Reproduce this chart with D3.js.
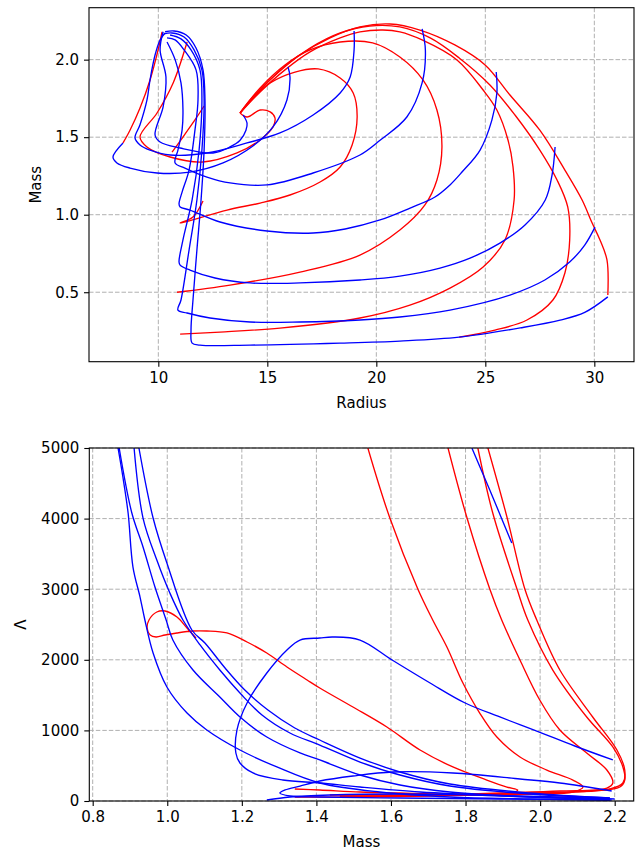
<!DOCTYPE html>
<html>
<head>
<meta charset="utf-8">
<script src="https://cdn.jsdelivr.net/npm/d3@7"></script>
<style>
  body { margin: 0; background: #fff; }
  svg { display: block; }
  text { font-family: "DejaVu Sans", sans-serif; fill: #000; }
</style>
</head>
<body>
<svg id="chart" width="640" height="852"></svg>
<script>
// ---------- Mass–radius sequences: [radius, mass] ----------
// stable (blue) branches
const mrBlue1 = [[30.62,0.47],[29.56,0.37],[28.43,0.32],[26.6,0.27],[23.8,0.21],[21.08,0.185],[18.34,0.172],[14.21,0.159],[11.91,0.159],[11.55,0.172],[11.5,0.256],[11.59,0.45],[11.77,0.772],[11.96,1.095],[12.1,1.417],[12.14,1.74],[12.05,1.934],[11.73,2.075],[11.28,2.159],[10.72,2.185],[10.31,2.18]];
const mrBlue2 = [[30.03,0.92],[29.56,0.804],[28.87,0.695],[27.73,0.579],[26.13,0.482],[23.38,0.385],[21.08,0.34],[19.25,0.321],[16.5,0.308],[14.21,0.308],[12.37,0.334],[11.32,0.366],[10.9,0.385],[11.04,0.45],[11.41,0.772],[11.77,1.095],[12.0,1.417],[12.1,1.74],[12.0,1.934],[11.64,2.063],[11.18,2.146],[10.63,2.172],[10.26,2.166]];
const mrBlue3 = [[28.2,1.437],[28.06,1.256],[27.75,1.095],[26.82,0.934],[25.67,0.817],[24.3,0.72],[22.92,0.656],[21.08,0.604],[19.25,0.579],[16.5,0.56],[14.21,0.56],[12.6,0.592],[11.45,0.643],[11.0,0.675],[10.95,0.695],[11.13,0.837],[11.55,1.095],[11.87,1.417],[12.0,1.74],[11.91,1.934],[11.5,2.063],[11.04,2.134],[10.54,2.159]];
const mrBlue4 = [[25.5,1.92],[25.53,1.785],[25.3,1.61],[24.76,1.417],[23.93,1.275],[23.38,1.192],[22.69,1.114],[21.55,1.043],[20.17,0.966],[18.57,0.908],[17.1,0.882],[14.99,0.895],[12.83,0.953],[11.45,1.03],[11.0,1.05],[10.95,1.069],[11.09,1.146],[11.41,1.288],[11.68,1.545],[11.82,1.74],[11.73,1.934],[11.18,2.063],[10.77,2.127],[10.4,2.14]];
const mrBlue5 = [[22.1,2.198],[22.25,2.063],[22.1,1.85],[21.4,1.63],[20.17,1.48],[19.25,1.385],[17.1,1.269],[14.99,1.192],[13.29,1.205],[12.23,1.243],[11.22,1.301],[10.77,1.334],[10.9,1.417],[11.09,1.545],[11.13,1.675],[11.04,1.85],[10.77,2.0],[10.4,2.114]];
const mrBlue6 = [[18.98,2.185],[18.98,2.063],[18.8,1.888],[18.34,1.785],[17.1,1.643],[15.58,1.527],[14.07,1.463],[12.23,1.398],[10.54,1.385],[9.62,1.417],[9.16,1.45],[8.93,1.495],[9.16,1.58],[9.48,1.74],[9.62,1.87],[9.85,2.03],[10.08,2.127],[10.31,2.172]];
const mrBlue7 = [[8.38,1.463],[7.92,1.372],[8.1,1.334],[8.7,1.301],[9.94,1.269],[11.45,1.275],[12.97,1.334],[14.34,1.443],[15.26,1.566],[15.9,1.74],[16.04,1.888],[15.95,1.953]];
const mrBlue8 = [[10.22,2.18],[10.08,2.063],[10.35,1.888],[10.22,1.695],[9.85,1.514],[10.08,1.469],[11.0,1.43],[12.51,1.398],[13.29,1.437],[13.75,1.48],[14.02,1.545],[14.07,1.59],[13.89,1.643]];

// unstable (red) branches
const mrRed1 = [[30.62,0.482],[30.58,0.708],[30.26,0.837],[29.9,0.946],[29.44,1.095],[28.65,1.288],[27.5,1.545],[26.13,1.772],[24.99,1.966],[23.6,2.095],[22.0,2.191],[20.63,2.23],[19.25,2.211],[17.88,2.14],[16.5,2.03],[15.13,1.87],[14.21,1.74],[13.75,1.656]];
const mrRed2 = [[23.8,0.21],[25.44,0.256],[26.91,0.321],[28.1,0.45],[28.65,0.624],[28.87,0.837],[28.78,1.05],[28.29,1.224],[27.5,1.417],[26.36,1.643],[25.21,1.837],[23.8,2.011],[22.47,2.14],[21.08,2.211],[19.7,2.217],[18.34,2.172],[16.96,2.075],[15.81,1.959],[14.67,1.804],[13.75,1.656]];
const mrRed3 = [[11.0,0.23],[12.83,0.243],[15.58,0.269],[19.25,0.334],[21.54,0.417],[23.38,0.527],[24.9,0.663],[25.9,0.837],[26.32,1.095],[26.27,1.308],[26.04,1.482],[25.53,1.675],[24.9,1.804],[23.7,1.998],[22.1,2.127],[21.08,2.179],[20.3,2.191],[19.25,2.179],[18.34,2.14],[16.96,2.05],[15.81,1.934],[14.67,1.792],[13.75,1.656]];
const mrRed4 = [[10.86,0.50],[13.29,0.546],[16.5,0.63],[19.25,0.74],[21.08,0.901],[22.23,1.063],[22.78,1.224],[23.01,1.437],[22.78,1.675],[22.14,1.869],[21.08,2.017],[19.83,2.108],[18.34,2.114],[16.96,2.063],[15.81,1.966],[14.67,1.818],[13.75,1.656]];
const mrRed5 = [[12.05,1.088],[11.59,0.985],[11.0,0.946],[13.15,1.03],[14.67,1.075],[16.04,1.127],[17.42,1.211],[18.34,1.308],[18.89,1.45],[19.12,1.63],[18.94,1.785],[18.34,1.882],[17.33,1.94],[16.27,1.92],[15.13,1.85],[14.44,1.766],[13.75,1.656]];
const mrRed6 = [[10.17,2.179],[9.99,2.063],[9.62,1.869],[9.16,1.688],[8.7,1.545],[8.38,1.463]];
const mrRed7 = [[11.32,2.114],[10.68,1.85],[9.94,1.656],[9.16,1.501],[9.48,1.437],[10.54,1.372],[12.05,1.34],[13.61,1.398],[14.67,1.482],[15.26,1.566],[15.35,1.624],[15.13,1.663],[14.67,1.675],[14.07,1.63],[13.75,1.656]];
const mrRed8 = [[12.1,1.701],[11.68,1.611],[11.13,1.501],[10.63,1.404]];

// ---------- Tidal deformability sequences: [mass, Lambda] ----------
const tdBlue1 = [[0.868,5000],[0.881,4589],[0.895,4079],[0.908,3314],[0.927,2889],[0.940,2564],[0.962,2096],[0.999,1615],[1.053,1246],[1.106,1006],[1.195,722],[1.294,482],[1.409,255],[1.57,127],[1.758,57],[1.972,28],[2.187,14]];
const tdBlue2 = [[0.871,5000],[0.905,4079],[0.935,3598],[0.967,3031],[0.997,2564],[1.015,2280],[1.069,1855],[1.141,1473],[1.195,1190],[1.267,906],[1.356,680],[1.409,581],[1.517,368],[1.624,227],[1.758,127],[1.972,57],[2.187,28]];
const tdBlue3 = [[0.911,5000],[0.935,4008],[0.972,3413],[1.007,2946],[1.042,2564],[1.088,2210],[1.141,1855],[1.195,1530],[1.254,1218],[1.329,963],[1.409,793],[1.517,552],[1.624,368],[1.758,212],[1.972,99],[2.187,42]];
const tdBlue4 = [[0.924,5000],[0.962,4008],[0.999,3371],[1.066,2422],[1.101,2238],[1.155,1884],[1.208,1572],[1.27,1289],[1.342,1034],[1.409,864],[1.517,609],[1.624,411],[1.758,241],[1.972,113],[2.187,42]];
const tdBlue5 = [[2.195,581],[2.093,779],[1.991,991],[1.892,1190],[1.799,1388],[1.705,1671],[1.603,1997],[1.517,2280],[1.444,2323],[1.409,2309],[1.356,2280],[1.321,2139],[1.267,1813],[1.214,1388],[1.187,1006],[1.184,680],[1.195,538],[1.23,397],[1.31,297],[1.409,255],[1.517,198],[1.678,127],[1.892,71],[2.053,42],[2.187,14]];
const tdBlue6 = [[2.192,142],[2.053,255],[1.946,312],[1.766,397],[1.605,411],[1.498,354],[1.409,283],[1.356,212],[1.316,156],[1.302,113],[1.329,71],[1.409,57],[1.624,42],[1.892,28],[2.192,14]];
const tdBlue7 = [[1.267,14],[1.329,57],[1.436,85],[1.624,99],[1.838,85],[2.053,57],[2.2,28]];
const tdBlue8 = [[1.817,5000],[1.865,4405],[1.924,3654]];

const tdRed1 = [[1.077,2309],[1.053,2450],[1.026,2606],[0.994,2691],[0.972,2677],[0.951,2564],[0.946,2450],[0.954,2351],[0.970,2323],[0.994,2351],[1.026,2380],[1.069,2408],[1.106,2408],[1.16,2380],[1.214,2252],[1.267,2096],[1.321,1898],[1.375,1714],[1.409,1601],[1.498,1331],[1.589,1048],[1.678,722],[1.766,482],[1.857,297],[1.911,198],[1.940,156],[1.919,113],[1.766,99],[1.624,113],[1.517,127],[1.409,156],[1.342,170]];
const tdRed2 = [[1.538,5000],[1.597,4008],[1.672,3003],[1.712,2564],[1.75,2181],[1.793,1671],[1.838,1246],[1.884,906],[1.946,623],[2.018,439],[2.088,297],[2.115,198],[2.088,127],[1.991,99],[1.838,85],[1.678,85],[1.517,85],[1.436,85]];
const tdRed3 = [[1.753,5000],[1.804,4008],[1.865,3003],[1.897,2564],[1.946,1997],[1.999,1431],[2.053,1006],[2.125,680],[2.179,439],[2.195,255],[2.179,184],[2.053,142],[1.892,113],[1.731,85],[1.57,71],[1.463,71]];
const tdRed4 = [[1.833,5000],[1.873,4079],[1.938,3003],[1.967,2564],[2.034,1855],[2.125,1190],[2.195,765],[2.222,482],[2.227,297],[2.214,198],[2.133,142],[1.999,113],[1.838,85],[1.678,71],[1.517,57],[1.342,57]];
const tdRed5 = [[1.86,5000],[1.911,4023],[1.959,3003],[1.991,2564],[2.053,1855],[2.141,1190],[2.206,722],[2.227,439],[2.222,255],[2.187,170],[2.08,127],[1.892,99],[1.678,71],[1.463,57]];

// ---------- Axis ticks ----------
const radiusTicks = [10, 15, 20, 25, 30];
const massTicksTop = [0.5, 1.0, 1.5, 2.0];
const massTicksBottom = [0.8, 1.0, 1.2, 1.4, 1.6, 1.8, 2.0, 2.2];
const lambdaTicks = [0, 1000, 2000, 3000, 4000, 5000];

const BLUE = "#0000ff", RED = "#ff0000";
const svg = d3.select("#chart");

function panel(opts) {
  const { id, box, xDomain, yDomain, xTicks, yTicks, xFmt, yFmt, xLabel, yLabel, yLabelX, blue, red } = opts;
  const x = d3.scaleLinear().domain(xDomain).range([box.x0, box.x1]);
  const y = d3.scaleLinear().domain(yDomain).range([box.y1, box.y0]);
  const g = svg.append("g");

  g.append("clipPath").attr("id", id).append("rect")
    .attr("x", box.x0).attr("y", box.y0)
    .attr("width", box.x1 - box.x0).attr("height", box.y1 - box.y0);

  // dashed grid
  const grid = g.append("g").attr("stroke", "#b0b0b0").attr("stroke-width", 1)
    .attr("stroke-dasharray", "4.5,2");
  xTicks.forEach(t => grid.append("line")
    .attr("x1", x(t)).attr("x2", x(t)).attr("y1", box.y0).attr("y2", box.y1));
  yTicks.forEach(t => grid.append("line")
    .attr("x1", box.x0).attr("x2", box.x1).attr("y1", y(t)).attr("y2", y(t)));

  const line = d3.line().x(d => x(d[0])).y(d => y(d[1])).curve(d3.curveCatmullRom.alpha(0.5));
  const curves = g.append("g").attr("clip-path", `url(#${id})`)
    .attr("fill", "none").attr("stroke-width", 1.35).attr("stroke-linejoin", "round");
  red.forEach(c => curves.append("path").attr("d", line(c)).attr("stroke", RED));
  blue.forEach(c => curves.append("path").attr("d", line(c)).attr("stroke", BLUE));

  // frame
  g.append("rect").attr("x", box.x0).attr("y", box.y0)
    .attr("width", box.x1 - box.x0).attr("height", box.y1 - box.y0)
    .attr("fill", "none").attr("stroke", "#000").attr("stroke-width", 1.1);

  const xAxis = g.append("g").attr("transform", `translate(0,${box.y1})`)
    .call(d3.axisBottom(x).tickValues(xTicks).tickFormat(d3.format(xFmt)).tickSize(5).tickPadding(5));
  const yAxis = g.append("g").attr("transform", `translate(${box.x0},0)`)
    .call(d3.axisLeft(y).tickValues(yTicks).tickFormat(d3.format(yFmt)).tickSize(5).tickPadding(5));
  [xAxis, yAxis].forEach(a => {
    a.select(".domain").remove();
    a.selectAll(".tick line").attr("stroke", "#000").attr("stroke-width", 1.1);
    a.selectAll(".tick text").attr("font-size", 15).attr("font-family", "DejaVu Sans").attr("fill", "#000");
  });
  xAxis.selectAll(".tick text").attr("dy", "0.76em");

  g.append("text").attr("x", (box.x0 + box.x1) / 2).attr("y", box.y1 + 46)
    .attr("text-anchor", "middle").attr("font-size", 15).text(xLabel);
  g.append("text")
    .attr("transform", `translate(${yLabelX},${(box.y0 + box.y1) / 2}) rotate(-90)`)
    .attr("text-anchor", "middle").attr("font-size", 15).text(yLabel);
}

panel({
  id: "clipTop",
  box: { x0: 89, x1: 634, y0: 7.7, y1: 361.7 },
  xDomain: [6.82, 31.82], yDomain: [0.052, 2.335],
  xTicks: radiusTicks, yTicks: massTicksTop, xFmt: "d", yFmt: ".1f",
  xLabel: "Radius", yLabel: "Mass", yLabelX: 41,
  blue: [mrBlue1, mrBlue2, mrBlue3, mrBlue4, mrBlue5, mrBlue6, mrBlue7, mrBlue8],
  red: [mrRed1, mrRed2, mrRed3, mrRed4, mrRed5, mrRed6, mrRed7, mrRed8]
});

panel({
  id: "clipBottom",
  box: { x0: 89.3, x1: 633.7, y0: 448, y1: 801 },
  xDomain: [0.7909, 2.251], yDomain: [0, 5000],
  xTicks: massTicksBottom, yTicks: lambdaTicks, xFmt: ".1f", yFmt: "d",
  xLabel: "Mass", yLabel: "Λ", yLabelX: 26,
  blue: [tdBlue1, tdBlue2, tdBlue3, tdBlue4, tdBlue5, tdBlue6, tdBlue7, tdBlue8],
  red: [tdRed1, tdRed2, tdRed3, tdRed4, tdRed5]
});
</script>
</body>
</html>
